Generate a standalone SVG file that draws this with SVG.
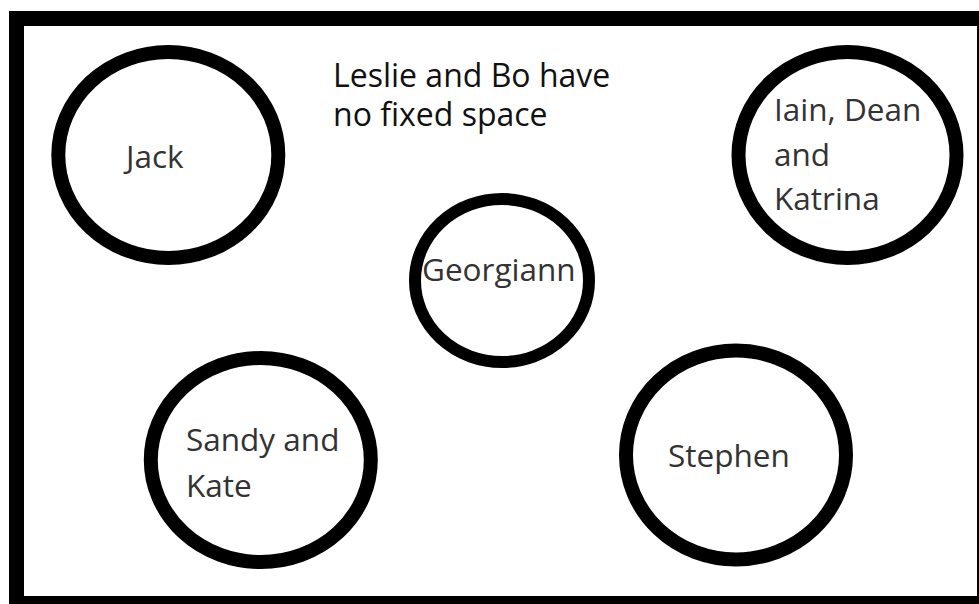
<svg xmlns="http://www.w3.org/2000/svg" width="979" height="604" viewBox="0 0 979 604">
<style>
.seat{fill:#fff;stroke:#000;stroke-width:14}
.lbl{font-family:"Open Sans","Noto Sans","Liberation Sans",sans-serif;font-size:31.5px;fill:#333}
.note{font-family:"Open Sans","Noto Sans","Liberation Sans",sans-serif;font-size:32px;fill:#111}
</style>
<rect x="0" y="0" width="979" height="604" fill="#fff"/>
<rect id="room" x="16.5" y="18.5" width="968" height="585" fill="#fff" stroke="#000" stroke-width="15"/>
<g id="connectors"></g>
<g id="note"><text class="note" x="333" y="87">Leslie and Bo have</text><text class="note" x="333" y="126">no fixed space</text></g>
<g id="jack"><ellipse class="seat" cx="168.3" cy="155" rx="110" ry="103"/><text class="lbl" x="126" y="168">Jack</text></g>
<g id="iain"><ellipse class="seat" cx="847.5" cy="155" rx="109" ry="103"/><text class="lbl" x="774" y="121">Iain, Dean</text><text class="lbl" x="774" y="166">and</text><text class="lbl" x="774" y="210">Katrina</text></g>
<g id="georgiann"><ellipse class="seat" cx="502" cy="280.5" rx="87" ry="81.5" style="stroke-width:12"/><text class="lbl" x="422" y="281">Georgiann</text></g>
<g id="sandy"><ellipse class="seat" cx="260.8" cy="460" rx="110" ry="102"/><text class="lbl" x="186" y="451">Sandy and</text><text class="lbl" x="186" y="497">Kate</text></g>
<g id="stephen"><ellipse class="seat" cx="736" cy="455" rx="110" ry="104.5"/><text class="lbl" x="668" y="467">Stephen</text></g>
</svg>
